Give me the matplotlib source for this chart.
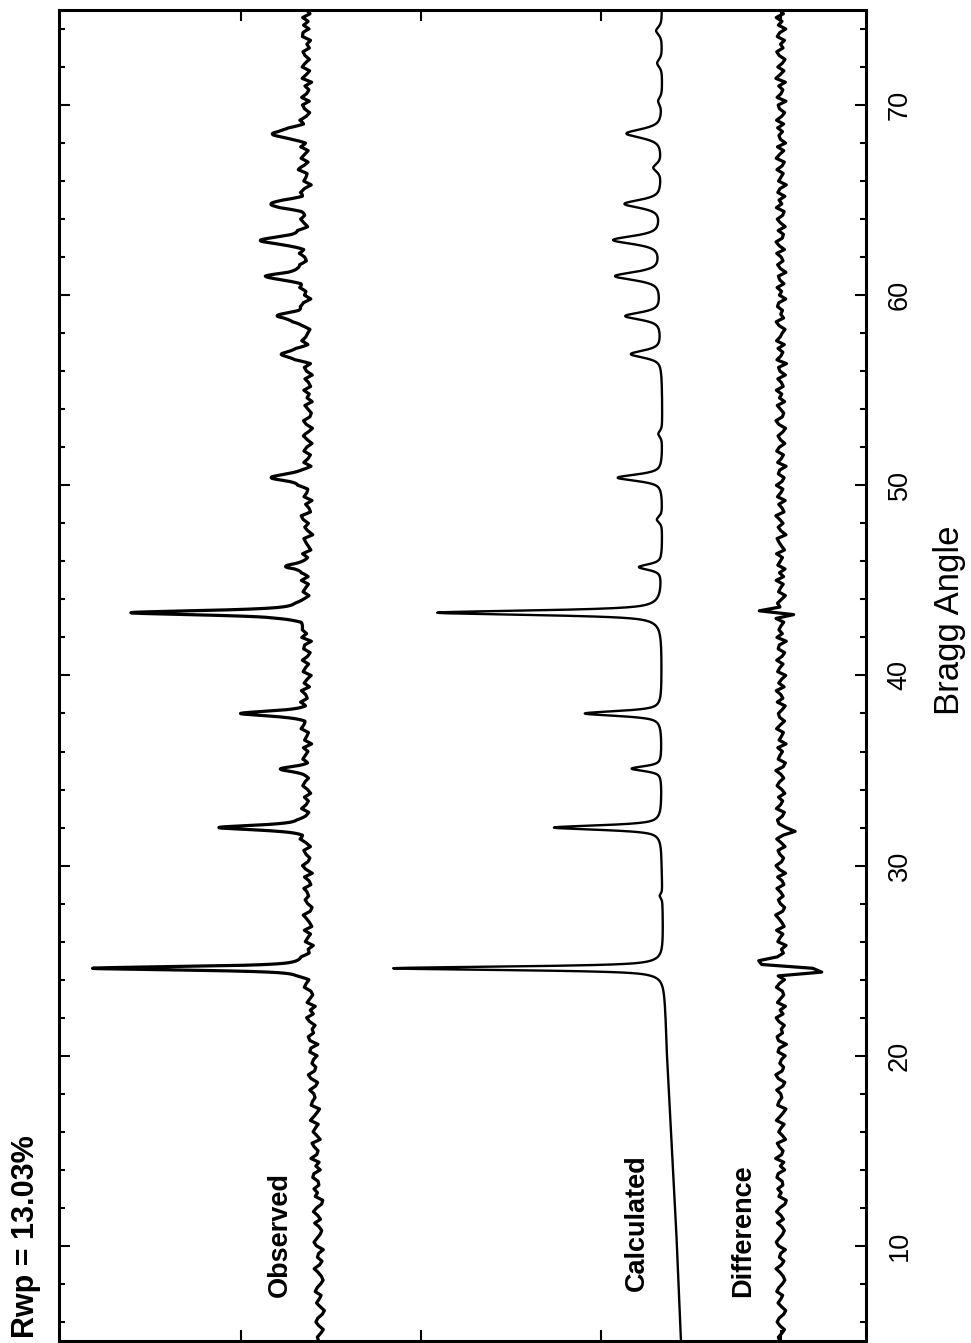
import numpy as np
import matplotlib.pyplot as plt
from matplotlib.ticker import MultipleLocator

plt.rcParams['font.family'] = ['Liberation Sans', 'DejaVu Sans']

# Bragg angle range and reflections
two_theta_min, two_theta_max = 5, 75
peak_pos = [24.6, 28.4, 32.0, 35.1, 38.0, 43.3, 45.7, 48.2, 50.4, 52.7,
            56.9, 58.9, 61.0, 62.9, 64.8, 66.7, 68.5, 70.2, 72.2, 73.9]
peak_fwhm = [0.22, 0.3, 0.28, 0.3, 0.3, 0.28, 0.35, 0.4, 0.4, 0.4,
             0.45, 0.45, 0.5, 0.5, 0.5, 0.5, 0.55, 0.5, 0.5, 0.5]
calc_height = [1506, 15, 600, 167, 428, 1250, 128, 30, 250, 22,
               172, 200, 256, 267, 206, 45, 200, 22, 28, 33]
obs_height = [1235, 10, 520, 139, 355, 995, 122, 20, 225, 15,
              156, 178, 222, 250, 206, 30, 194, 15, 20, 22]

# backgrounds (already offset for display)
bg_angle = [5, 10, 15, 20, 25, 30, 40, 50, 60, 70, 75]
obs_bg = [2561, 2567, 2583, 2600, 2617, 2628, 2633, 2622, 2622, 2628, 2628]
calc_bg = [556, 578, 606, 633, 650, 661, 661, 656, 661, 656, 661]

# residual (obs - calc) read every 0.2 deg
resid = [8, 15, -4, -19, 6, 22, 11, -14, -26, -3, 17, 2, -9, 24, 13, -7, -21, -12, 5, 28,
         -2, -16, 9, 3, -24, 14, 27, 10, -8, -18, -5, 20, -13, 1, 25, 7, -22, -29, 12, -1,
         18, -10, -6, 23, 16, -20, 4, -15, 30, -3, -11, 9, 21, -25, -8, 13, 0, -17, 26, 6,
         -12, -27, 19, 11, -4, 2, 24, -9, -21, 15, 29, -6, -14, 7, -2, -23, 17, 10, -30, 14,
         22, -8, -1, -18, 12, 27, -11, 5, -24, 20, 3, -15, -7, 26, 9, -19, 16, -4, -26, 8,
         13, 21, -13, -2, -28, 18, 6, -10, 25, -17, -5, 11, 30, -9, -20, 4, 15, -12, 2, 23,
         -16, -6, 19, -25, 10, 28, -3, -14, 7, 17, -22, -1, 24, -11, 5, -27, 12, 20, -7, -18,
         26, 3, -9, 14, -21, -4, 22, 9, -15, 1, 29, -12, -24, 16, 6, -8, 18, -28, 11, -2,
         -13, 25, 4, -19, 8, 15, -6, -23, 21, -10, 2, 27, -17, 13, -3, -26, 19, 7, -11, 24,
         -5, -20, 16, 10, -29, 23, -7, 12, 1, -15, 28, -9, -18, 6, 20, -2, -24, 14, 3, -12,
         27, -14, 9, -22, 18, 5, -8, 25, -19, -3, 11, 22, -27, 0, 16, -11, 7, 29, -16, -6,
         13, -23, 20, 2, -10, 26, -5, -17, 15, 8, -28, 19, -1, -13, 24, 10, -21, 4, 17, -9,
         -25, 12, 28, -7, -15, 3, 21, -20, 9, -4, 26, -12, -2, 18, -24, 6, 14, -30, 23, 1,
         -10, 17, -18, 25, 5, -6, -22, 11, 27, -14, 2, -8, 20, 13, -26, 9, -3, 22, -16, 7,
         15, -27, 4, 19, -11, -1, 24, -19, 10, 28, -7, -13, 16, -23, 3, 21, -9, -17, 26, -4,
         11, -21, 18, 6, -29, 14, 1, -12, 23, -6, -18, 27, 8, -15, 20, -25, 4, 12, -8, 19,
         -14, 25, -3, -20, 9, 16, -27, 22, 0, -10, 13, -24, 29, 5, -16, 18, -7, -22, 10, 24,
         -11, 3, -19, 21, 8, -26, 15, -5, 27, -13, 6]
# misfit spikes in the difference curve at the strong lines
spike_angle = [24.4, 24.6, 24.8, 25.0, 31.8, 43.2, 43.4]
spike_value = [-222, -150, 100, 111, -83, -61, 139]


def pseudo_voigt(x, pos, h, w, eta=0.7):
    d = (x - pos) / w
    return h * (eta / (1 + 4 * d ** 2) + (1 - eta) * np.exp(-4 * np.log(2) * d ** 2))


coarse = np.linspace(two_theta_min, two_theta_max, len(resid))
fine = np.arange(two_theta_min, two_theta_max + 0.001, 0.01)

calc = np.interp(fine, bg_angle, calc_bg)
obs = np.interp(fine, bg_angle, obs_bg) + np.interp(fine, coarse, resid)
for p, w, hc, ho in zip(peak_pos, peak_fwhm, calc_height, obs_height):
    calc = calc + pseudo_voigt(fine, p, hc, w)
    obs = obs + pseudo_voigt(fine, p, ho, w)

diff = np.array(resid, dtype=float)
for a, v in zip(spike_angle, spike_value):
    diff[np.argmin(np.abs(coarse - a))] += v

fig = plt.figure(figsize=(9.71, 13.43), dpi=100)
ax = fig.add_axes([0.0608, 0.0015, 0.8311, 0.9911])

ax.plot(obs, fine, color='black', lw=2.3)
ax.plot(calc, fine, color='black', lw=1.7)
ax.plot(diff, coarse, color='black', lw=2.3)

ax.set_xlim(4011, -472)
ax.set_ylim(two_theta_min, two_theta_max)
ax.set_xticks([0, 1000, 2000, 3000])
ax.yaxis.set_major_locator(MultipleLocator(10))
ax.yaxis.set_minor_locator(MultipleLocator(2))
ax.tick_params(axis='x', direction='in', top=True, bottom=True,
               labelbottom=False, length=8, width=1.5)
ax.tick_params(axis='y', which='major', direction='in', left=True, right=True,
               labelleft=False, labelright=True, labelrotation=90,
               length=8, width=1.5, pad=15, labelsize=19.5)
ax.tick_params(axis='y', which='minor', direction='in', left=True, right=True,
               length=4, width=1.5)
for t in ax.yaxis.get_major_ticks():
    t.label2.set_va('center')
for s in ax.spines.values():
    s.set_linewidth(2.2)

ax.text(0.274, 0.08, 'Observed', transform=ax.transAxes, rotation=90,
        ha='center', va='center', fontsize=19.5, fontweight='bold')
ax.text(0.716, 0.089, 'Calculated', transform=ax.transAxes, rotation=90,
        ha='center', va='center', fontsize=19.5, fontweight='bold')
ax.text(0.848, 0.083, 'Difference', transform=ax.transAxes, rotation=90,
        ha='center', va='center', fontsize=19.5, fontweight='bold')

fig.text(0.027, 0.004, 'Rwp = 13.03%', rotation=90, ha='center', va='bottom',
         fontsize=22, fontweight='bold')
fig.text(0.978, 0.538, 'Bragg Angle', rotation=90, ha='center', va='center',
         fontsize=25)

fig.savefig('out.png', dpi=100)
